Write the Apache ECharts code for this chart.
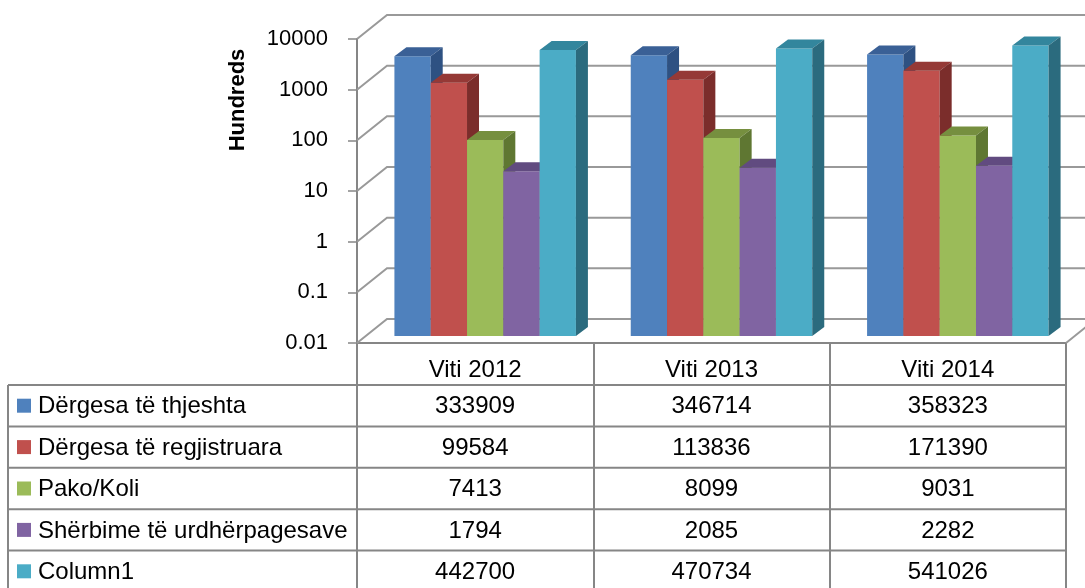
<!DOCTYPE html>
<html>
<head>
<meta charset="utf-8">
<script src="https://cdn.jsdelivr.net/npm/echarts@6/dist/echarts.min.js"></script>
<style>
html, body { margin: 0; padding: 0; background: #fff; }
#main { width: 1085px; height: 588px; }
</style>
</head>
<body>
<div id="main"></div>
<script>
// data (table values are units, chart is in hundreds)
var years = ['Viti 2012', 'Viti 2013', 'Viti 2014'];
var seriesNames = ['Dërgesa të thjeshta', 'Dërgesa të regjistruara', 'Pako/Koli', 'Shërbime të urdhërpagesave', 'Column1'];
var thjeshta = [333909, 346714, 358323];
var regjistruara = [99584, 113836, 171390];
var pako = [7413, 8099, 9031];
var urdherpagesa = [1794, 2085, 2282];
var column1 = [442700, 470734, 541026];
var yTicks = [0.01, 0.1, 1, 10, 100, 1000, 10000];
var displayUnit = 100;

var allValues = [thjeshta, regjistruara, pako, urdherpagesa, column1];

var colors = ['#4F81BD', '#C0504D', '#9BBB59', '#8064A2', '#4BACC6'];
var topColors = ['#3A6096', '#953936', '#768F3F', '#614B80', '#33869D'];
var sideColors = ['#2E5182', '#7B2D2B', '#5F7732', '#4E3D68', '#2B6B7E'];

var font = '"Liberation Sans", Arial, sans-serif';
var lineGray = '#868686';

var dom = document.getElementById('main');
var myChart = echarts.init(dom);

// 3d column: front face, top and right side
function barRender(idx) {
    return function (params, api) {
        var cat = api.value(0);
        var base = api.coord([cat, yTicks[0]]);
        var top = api.coord([cat, api.value(1)]);
        var band = api.coord([1, 1])[0] - api.coord([0, 1])[0];
        var w = band * 0.768 / 5;
        var x0 = base[0] - 2.5 * w + 10 + idx * w;
        var y1 = top[1] - 7, y0 = base[1] - 7;
        var dx = 12, dy = -9;
        return {
            type: 'group',
            children: [
                {type: 'rect', shape: {x: x0, y: y1, width: w, height: y0 - y1}, style: {fill: colors[idx]}},
                {type: 'polygon', shape: {points: [[x0, y1], [x0 + dx, y1 + dy], [x0 + w + dx, y1 + dy], [x0 + w, y1]]}, style: {fill: topColors[idx]}},
                {type: 'polygon', shape: {points: [[x0 + w, y1], [x0 + w + dx, y1 + dy], [x0 + w + dx, y0 + dy], [x0 + w, y0]]}, style: {fill: sideColors[idx]}}
            ]
        };
    };
}

// back wall gridlines, drawn with a depth offset
function wallRender(params, api) {
    var cs = params.coordSys;
    var p = api.coord([0, api.value(1)]);
    var y = p[1];
    var children = [{
        type: 'polyline',
        shape: {points: [[cs.x, y], [cs.x + 30, y - 24], [cs.x + cs.width + 40, y - 24]]},
        style: {stroke: '#999999', lineWidth: 2, fill: null}
    }];
    if (params.dataIndex === 0) {
        children.push({
            type: 'line',
            shape: {x1: cs.x + cs.width, y1: y, x2: cs.x + cs.width + 30, y2: y - 24},
            style: {stroke: '#999999', lineWidth: 2}
        });
    }
    return {type: 'group', children: children};
}

var series = [];
series.push({
    type: 'custom',
    name: 'wall',
    z: 1,
    silent: true,
    renderItem: wallRender,
    data: yTicks.map(function (v) { return [0, v]; })
});
for (var i = 0; i < seriesNames.length; i++) {
    var data = [];
    for (var j = 0; j < years.length; j++) {
        data.push([j, allValues[i][j] / displayUnit]);
    }
    series.push({
        type: 'custom',
        name: seriesNames[i],
        z: 2,
        renderItem: barRender(i),
        data: data
    });
}

var option = {
    animation: false,
    grid: {left: 357, right: 19, top: 39, bottom: 245},
    xAxis: {
        type: 'category',
        data: years,
        axisLine: {lineStyle: {color: lineGray, width: 2}},
        axisTick: {show: true, length: 250, lineStyle: {color: lineGray, width: 2}},
        axisLabel: {margin: 15, fontSize: 24, color: '#000', fontFamily: font}
    },
    yAxis: {
        type: 'log',
        logBase: 10,
        min: 0.01,
        max: 10000,
        splitNumber: 6,
        axisLine: {show: true, lineStyle: {color: lineGray, width: 2}},
        axisTick: {show: true, length: 9, lineStyle: {color: lineGray, width: 1.5}},
        axisLabel: {
            margin: 29, fontSize: 22, color: '#000', fontFamily: font,
            formatter: function (v) { return String(parseFloat(Number(v).toPrecision(6))); }
        },
        splitLine: {show: false}
    },
    series: series
};
myChart.setOption(option, true);

// data table below the plot
var tableTop = 385, rowH = 41.4, tableLeft = 8;
var rightEdge = myChart.convertToPixel({xAxisIndex: 0}, years.length - 1) +
    (myChart.convertToPixel({xAxisIndex: 0}, 1) - myChart.convertToPixel({xAxisIndex: 0}, 0)) / 2;
var graphic = [];
graphic.push({
    type: 'text', x: 238, y: 100, rotation: Math.PI / 2,
    style: {text: 'Hundreds', font: 'bold 22px ' + font, fill: '#000', align: 'center', verticalAlign: 'middle'}
});
graphic.push({
    type: 'line', shape: {x1: tableLeft, y1: tableTop, x2: tableLeft, y2: 600},
    style: {stroke: lineGray, lineWidth: 2}
});
for (var r = 0; r < seriesNames.length; r++) {
    var ry = tableTop + r * rowH;
    graphic.push({
        type: 'line', shape: {x1: tableLeft, y1: ry, x2: rightEdge, y2: ry},
        style: {stroke: lineGray, lineWidth: 2}
    });
    graphic.push({
        type: 'rect', shape: {x: 17, y: ry + rowH / 2 - 7, width: 14, height: 14},
        style: {fill: colors[r]}
    });
    graphic.push({
        type: 'text', x: 38, y: ry + rowH / 2 + 1,
        style: {text: seriesNames[r], font: '24px ' + font, fill: '#000', verticalAlign: 'middle'}
    });
    for (var c = 0; c < years.length; c++) {
        graphic.push({
            type: 'text', x: myChart.convertToPixel({xAxisIndex: 0}, c), y: ry + rowH / 2 + 1,
            style: {text: String(allValues[r][c]), font: '24px ' + font, fill: '#000', align: 'center', verticalAlign: 'middle'}
        });
    }
}
myChart.setOption({graphic: graphic});
</script>
</body>
</html>
